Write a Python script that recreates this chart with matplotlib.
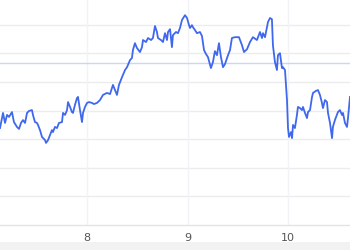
import matplotlib
matplotlib.use("Agg")
import matplotlib.pyplot as plt
from matplotlib.patches import Rectangle

# price trace
xs = [7.134, 7.164, 7.184, 7.204, 7.224, 7.253, 7.273, 7.303, 7.323, 7.343,
      7.363, 7.383, 7.403, 7.423, 7.452, 7.462, 7.482, 7.502, 7.512, 7.532,
      7.552, 7.582, 7.592, 7.612, 7.632, 7.651, 7.661, 7.681, 7.701, 7.721,
      7.751, 7.761, 7.781, 7.801, 7.811, 7.831, 7.850, 7.860, 7.880, 7.900,
      7.910, 7.930, 7.950, 7.960, 7.980, 8.000, 8.020, 8.049, 8.069, 8.099,
      8.129, 8.159, 8.199, 8.229, 8.258, 8.278, 8.298, 8.318, 8.348, 8.378,
      8.398, 8.428, 8.447, 8.457, 8.477, 8.497, 8.527, 8.547, 8.557, 8.587,
      8.607, 8.637, 8.656, 8.676, 8.696, 8.706, 8.736, 8.756, 8.776, 8.796,
      8.806, 8.826, 8.845, 8.855, 8.885, 8.905, 8.925, 8.945, 8.975, 8.995,
      9.015, 9.025, 9.044, 9.054, 9.074, 9.094, 9.124, 9.144, 9.164, 9.184,
      9.204, 9.233, 9.253, 9.273, 9.293, 9.313, 9.333, 9.353, 9.373, 9.403,
      9.423, 9.442, 9.472, 9.512, 9.542, 9.562, 9.592, 9.622, 9.651, 9.691,
      9.721, 9.741, 9.751, 9.771, 9.801, 9.821, 9.840, 9.850, 9.870, 9.890,
      9.900, 9.920, 9.940, 9.950, 9.970, 9.990, 10.000, 10.010, 10.030, 10.040,
      10.050, 10.069, 10.089, 10.099, 10.119, 10.139, 10.149, 10.169, 10.189, 10.199,
      10.219, 10.239, 10.249, 10.278, 10.298, 10.318, 10.338, 10.348, 10.368, 10.388,
      10.398, 10.418, 10.438, 10.447, 10.467, 10.487, 10.497, 10.517, 10.537, 10.547,
      10.567, 10.587, 10.597, 10.617]
ys = [33.9, 39.2, 35.7, 38.5, 37.8, 39.5, 36.0, 34.3, 33.6, 35.7,
      36.7, 35.7, 39.2, 39.9, 40.2, 38.5, 36.0, 35.7, 35.0, 33.2,
      30.8, 29.7, 28.7, 29.7, 31.5, 33.2, 32.5, 34.3, 33.9, 35.7,
      36.0, 39.2, 38.5, 40.2, 43.0, 41.3, 39.5, 39.2, 42.0, 44.4,
      44.8, 40.2, 36.0, 39.2, 41.3, 42.7, 43.0, 42.7, 42.3, 42.7,
      43.7, 45.5, 46.2, 45.8, 49.0, 47.2, 45.5, 49.0, 51.7, 54.2,
      55.2, 57.7, 58.4, 61.2, 63.6, 61.9, 60.5, 62.2, 64.7, 64.0,
      65.4, 64.7, 65.4, 69.6, 67.5, 65.4, 64.7, 64.0, 67.1, 64.7,
      67.5, 68.5, 62.2, 66.4, 67.5, 67.1, 68.9, 71.7, 73.4, 72.4,
      69.9, 68.9, 69.9, 69.2, 68.2, 67.1, 67.5, 66.1, 61.2, 59.8,
      58.7, 54.9, 57.0, 60.8, 59.4, 63.6, 58.7, 55.2, 56.3, 59.4,
      61.2, 65.4, 65.7, 65.7, 62.9, 60.5, 61.5, 64.0, 65.7, 64.7,
      67.5, 65.4, 67.1, 65.7, 71.0, 72.4, 72.0, 62.9, 57.0, 54.2,
      59.4, 60.1, 54.9, 55.2, 54.2, 43.7, 33.9, 30.8, 32.5, 30.4,
      35.0, 33.9, 38.5, 41.3, 40.9, 40.2, 41.3, 39.2, 37.4, 39.5,
      40.2, 44.8, 46.2, 46.9, 47.2, 45.5, 42.7, 40.9, 43.7, 43.0,
      39.2, 35.7, 30.4, 34.3, 36.7, 38.5, 39.5, 40.2, 38.5, 39.2,
      35.7, 34.3, 37.4, 44.8]
ref_level = 56.6
x_ticks = [8, 9, 10]
y_grid = [10, 20, 30, 40, 50, 60, 70]

fig = plt.figure(figsize=(3.5, 2.5), dpi=100)
fig.patches.append(Rectangle((0, 0), 1, 0.032, transform=fig.transFigure,
                             facecolor='#f2f2f2', edgecolor='none', zorder=0))
ax = fig.add_axes([0, 0.1, 1, 0.9])

ax.set_xlim(7.134, 10.617)
ax.set_ylim(0, 78.7)

for g in y_grid:
    ax.axhline(g, color='#ececec', lw=1, zorder=1)
for t in x_ticks:
    ax.axvline(t, color='#f1f3f6', lw=1, zorder=1)
ax.axhline(ref_level, color='#c9d6fb', lw=1, zorder=2)

ax.plot(xs, ys, color='#3f68ee', lw=1.3, zorder=3)

ax.set_xticks(x_ticks)
ax.set_xticklabels([str(t) for t in x_ticks])
ax.set_yticks([])
ax.tick_params(axis='x', length=0, pad=6, labelsize=8, labelcolor='#555555')
for s in ['top', 'left', 'right']:
    ax.spines[s].set_visible(False)
ax.spines['bottom'].set_color('#e3e3e3')
ax.spines['bottom'].set_linewidth(1)

fig.savefig('out.png', dpi=100)
